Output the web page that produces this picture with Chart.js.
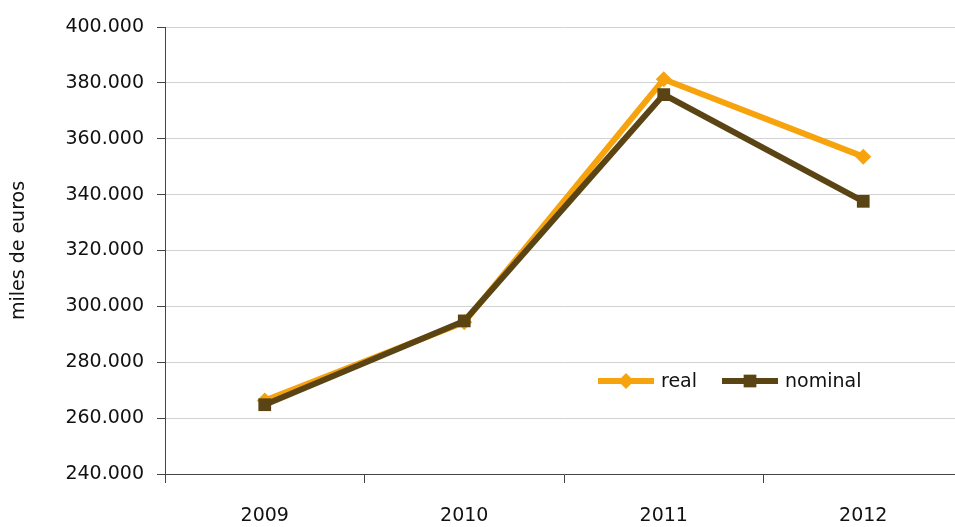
<!DOCTYPE html>
<html>
<head>
<meta charset="utf-8">
<script src="https://cdn.jsdelivr.net/npm/chart.js@4.4.0/dist/chart.umd.min.js"></script>
<style>
  html, body { margin: 0; padding: 0; background: #fff; overflow: hidden; }
  #wrap { width: 972px; height: 527px; position: relative; }
</style>
</head>
<body>
<div id="wrap"><canvas id="myChart"></canvas></div>
<script>
const years = ['2009', '2010', '2011', '2012'];
const realValues = [266300, 294300, 381300, 353600];
const nominalValues = [264800, 294800, 375800, 337600];
const seriesNames = ['real', 'nominal'];
const yTicks = [240000, 260000, 280000, 300000, 320000, 340000, 360000, 380000, 400000];

const REAL_COLOR = '#F7A30E';
const NOMINAL_COLOR = '#5B4414';
const FONT = "'DejaVu Sans', sans-serif";

const fmt = (v) => {
  const s = String(Math.round(v));
  return s.replace(/\B(?=(\d{3})+(?!\d))/g, '.');
};

// legend drawn inside the plot area
const insideLegend = {
  id: 'insideLegend',
  afterDatasetsDraw(chart) {
    const { ctx, chartArea } = chart;
    const y = chartArea.top + 354;
    const items = [
      { ds: chart.data.datasets[0], x: chartArea.left + 433 },
      { ds: chart.data.datasets[1], x: chartArea.left + 557 }
    ];
    ctx.save();
    items.forEach(({ ds, x }) => {
      ctx.strokeStyle = ds.borderColor;
      ctx.lineWidth = 6;
      ctx.beginPath();
      ctx.moveTo(x, y);
      ctx.lineTo(x + 56, y);
      ctx.stroke();
      ctx.fillStyle = ds.borderColor;
      Chart.helpers.drawPoint(ctx, {
        pointStyle: ds.pointStyle,
        radius: ds.pointRadius,
        borderWidth: 0
      }, x + 28, y);
      ctx.fillStyle = '#111';
      ctx.font = '19px ' + FONT;
      ctx.textBaseline = 'middle';
      ctx.textAlign = 'left';
      ctx.fillText(ds.label, x + 63, y + 1);
    });
    ctx.restore();
  }
};

const ctx = document.getElementById('myChart').getContext('2d');
new Chart(ctx, {
  type: 'line',
  data: {
    labels: years,
    datasets: [
      {
        label: seriesNames[0],
        data: realValues,
        borderColor: REAL_COLOR,
        backgroundColor: REAL_COLOR,
        borderWidth: 6,
        pointStyle: 'rectRot',
        pointRadius: 8,
        pointBorderWidth: 0,
        tension: 0,
        order: 2
      },
      {
        label: seriesNames[1],
        data: nominalValues,
        borderColor: NOMINAL_COLOR,
        backgroundColor: NOMINAL_COLOR,
        borderWidth: 6,
        pointStyle: 'rect',
        pointRadius: 9,
        pointBorderWidth: 0,
        tension: 0,
        order: 1
      }
    ]
  },
  plugins: [insideLegend],
  options: {
    responsive: true,
    maintainAspectRatio: false,
    animation: false,
    layout: { padding: { top: 27, right: 4, bottom: 0, left: 0 } },
    plugins: {
      legend: { display: false },
      tooltip: { enabled: false }
    },
    scales: {
      x: {
        offset: true,
        afterFit(axis) { axis.height = 53; },
        grid: {
          display: true,
          offset: true,
          drawOnChartArea: false,
          drawTicks: true,
          tickLength: 9,
          color: '#444'
        },
        border: { display: true, color: '#444', width: 1 },
        ticks: {
          color: '#111',
          font: { family: FONT, size: 19 },
          padding: 22,
          maxRotation: 0
        }
      },
      y: {
        min: 240000,
        max: 400000,
        afterBuildTicks(axis) {
          axis.ticks = yTicks.map(v => ({ value: v }));
        },
        afterFit(axis) { axis.width = 165; },
        grid: {
          color: '#d2d2d2',
          lineWidth: 1,
          drawTicks: true,
          tickLength: 8,
          tickColor: '#444'
        },
        border: { display: true, color: '#444', width: 1 },
        ticks: {
          color: '#111',
          font: { family: FONT, size: 19 },
          padding: 13,
          callback: (v) => fmt(v)
        },
        title: {
          display: true,
          text: 'miles de euros',
          color: '#111',
          font: { family: FONT, size: 19 },
          padding: { top: 8, bottom: 0 }
        }
      }
    }
  }
});
</script>
</body>
</html>
